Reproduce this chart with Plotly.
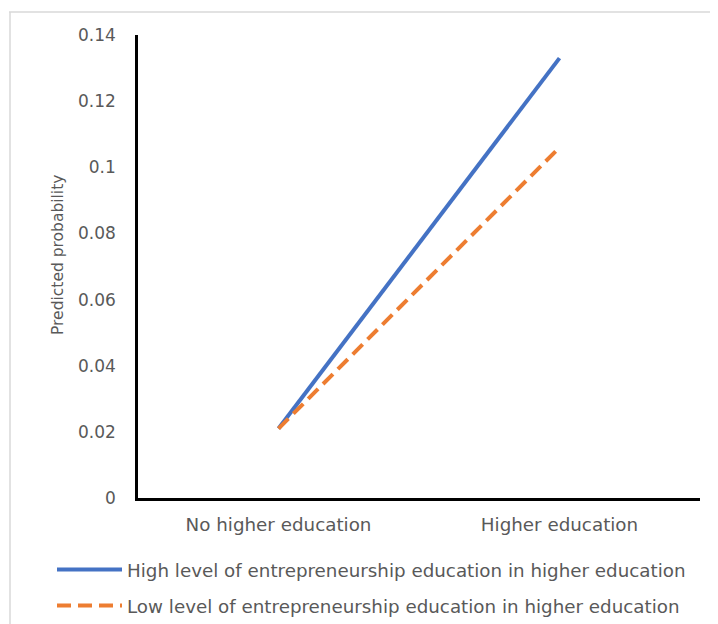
import plotly.graph_objects as go

categories = ["No higher education", "Higher education"]
high_values = [0.021, 0.133]
low_values = [0.021, 0.106]
series_names = [
    "High level of entrepreneurship education in higher education",
    "Low level of entrepreneurship education in higher education",
]
y_ticks = [0, 0.02, 0.04, 0.06, 0.08, 0.1, 0.12, 0.14]
y_ticklabels = ["0", "0.02", "0.04", "0.06", "0.08", "0.1", "0.12", "0.14"]
y_title = "Predicted probability"

# page body has an 8px margin, so figure coordinates are page coordinates minus 8
OFF = 8
W, H = 718 - OFF, 624 - OFF
L, R, T, B = 138 - OFF, 18, 35 - OFF, 624 - 498
pw, ph = W - L - R, H - T - B


def px_x(x):
    return (x - OFF - L) / pw


def px_y(y):
    return (H - B - (y - OFF)) / ph


def cx(x):
    return (x - OFF) / W


def cy(y):
    return 1 - (y - OFF) / H


TXT = "#595959"
FONT = "DejaVu Sans"

fig = go.Figure()
fig.add_trace(go.Scatter(x=categories, y=high_values, mode="lines", name=series_names[0],
                         line=dict(color="#4472C4", width=4), legend="legend"))
fig.add_trace(go.Scatter(x=categories, y=low_values, mode="lines", name=series_names[1],
                         line=dict(color="#ED7D31", width=4, dash="14px,7px"), legend="legend2"))

leg_common = dict(xanchor="left", yanchor="top", xref="container", yref="container",
                  font=dict(family=FONT, size=18.3, color=TXT),
                  itemwidth=65, bgcolor="rgba(0,0,0,0)")

fig.update_layout(
    width=W, height=H,
    margin=dict(l=L, r=R, t=T, b=B, autoexpand=False),
    paper_bgcolor="white", plot_bgcolor="white",
    font=dict(family=FONT, size=16, color=TXT),
    xaxis=dict(type="category", range=[-0.5, 1.5], showgrid=False, showline=True,
               linecolor="black", linewidth=2.5, ticks="", tickfont=dict(size=18.3, color=TXT),
               ticklabelstandoff=8, zeroline=False, fixedrange=True),
    yaxis=dict(range=[0, 0.14], tickvals=y_ticks, ticktext=y_ticklabels, showgrid=False,
               showline=True, linecolor="black", linewidth=2.5, ticks="", zeroline=False,
               tickfont=dict(size=17, color=TXT), ticklabelstandoff=16, fixedrange=True),
    showlegend=True,
    legend=dict(x=cx(52), y=cy(551), **leg_common),
    legend2=dict(x=cx(52), y=cy(587), **leg_common),
    annotations=[
        dict(text=y_title, textangle=-90, xref="paper", yref="paper", x=px_x(58), y=px_y(255),
             xanchor="center", yanchor="middle", showarrow=False,
             font=dict(family=FONT, size=15.5, color=TXT)),
    ],
    shapes=[
        dict(type="line", xref="paper", yref="paper", x0=px_x(9), x1=px_x(730), y0=px_y(12), y1=px_y(12),
             line=dict(color="#d9d9d9", width=1.5)),
        dict(type="line", xref="paper", yref="paper", x0=px_x(10), x1=px_x(10), y0=px_y(12), y1=px_y(640),
             line=dict(color="#d9d9d9", width=1.5)),
    ],
)

fig.write_html("out.html")
